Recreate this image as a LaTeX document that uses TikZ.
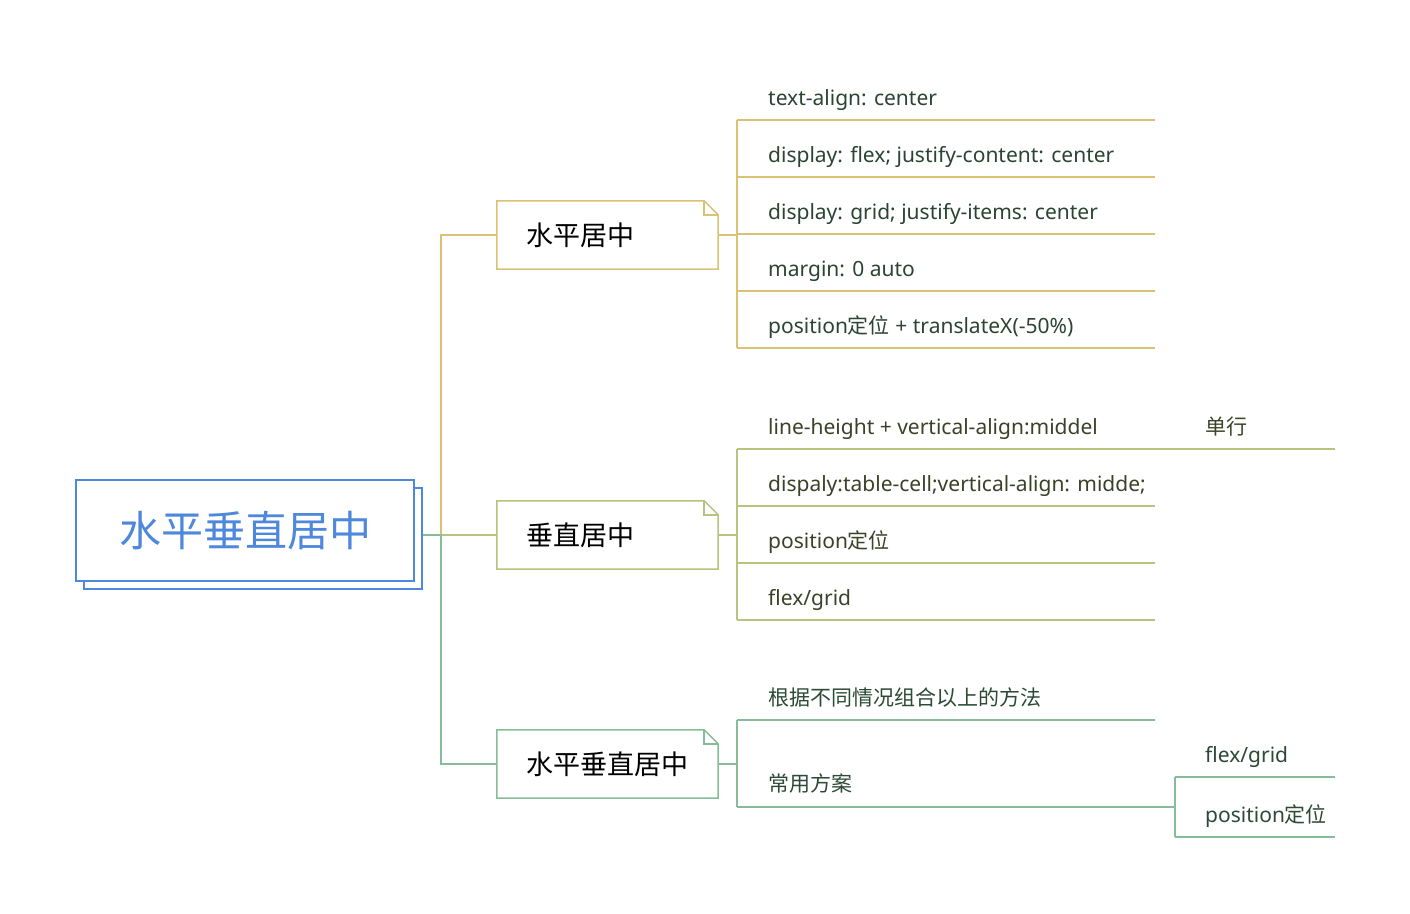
\documentclass[tikz,border=0pt]{standalone}
\usepackage{fontspec}
\usetikzlibrary{calc,shadows}
\setmainfont{Noto Sans}
\newfontfamily\cjk{Noto Sans CJK SC}
\definecolor{yel}{HTML}{D9C273}
\definecolor{oli}{HTML}{B9C27F}
\definecolor{grn}{HTML}{86BC98}
\definecolor{rootblue}{HTML}{4E88DC}
\definecolor{txa}{HTML}{2C4433}
\definecolor{txb}{HTML}{3A4328}
\definecolor{txc}{HTML}{2C4A36}
\tikzset{
  rootbox/.style={draw=rootblue, line width=1.5pt, fill=white,
    minimum width=338pt, minimum height=101pt, inner sep=0pt,
    font=\cjk\fontsize{42}{46}\selectfont, text=rootblue,
    copy shadow={shadow xshift=8pt, shadow yshift=-8pt}},
  topic/.style={minimum width=221pt, minimum height=68pt, inner xsep=29pt,
    inner ysep=0pt, text width=163pt, align=left,
    font=\cjk\fontsize{27}{30}\selectfont, text=black},
  leaf/.style={anchor=base west, inner sep=0pt,
    font=\fontsize{21}{24}\selectfont},
  cjkleaf/.style={leaf, font=\cjk\fontsize{21}{24}\selectfont},
  wire/.style={line width=1.5pt},
  fold/.style={line width=1.5pt, line join=miter},
}
\begin{document}
\begin{tikzpicture}[x=1pt,y=-1pt]
\useasboundingbox[fill=white] (0,0) rectangle (1410,913);

% root and main topics
\node[rootbox] (root) at (245,530.5) {水平垂直居中};
\node[topic] (t1) at (607.5,235) {水平居中};
\node[topic] (t2) at (607.5,535) {垂直居中};
\node[topic] (t3) at (607.5,764) {水平垂直居中};
\coordinate (port) at ($(root.east |- t2.west)+(8,0)$);
\coordinate (trunk) at (441,535);

% note-shaped outlines of the main topics
\foreach \n/\c in {t1/yel,t2/oli,t3/grn}{
  \draw[fold,\c] (\n.south west) -- (\n.north west)
    -- ([xshift=-14pt]\n.north east) -- ([yshift=-14pt]\n.north east)
    -- (\n.south east) -- cycle;
  \draw[fold,\c] ([xshift=-14pt]\n.north east)
    -- ([xshift=-14pt,yshift=-14pt]\n.north east)
    -- ([yshift=-14pt]\n.north east);
}

% root to topics
\draw[wire,yel] (port) -- (trunk) |- (t1.west);
\draw[wire,oli] (port) -- (t2.west);
\draw[wire,grn] (port) -- (trunk) |- (t3.west);

% right rims of the subtopic underlines
\coordinate (rim) at (1155,0);
\coordinate (rim2) at (1335,0);

% branch 1: horizontal centring
\foreach \i/\y in {1/120,2/177,3/234,4/291,5/348}{
  \coordinate (ua\i) at (737,\y);
}
\node[leaf,text=txa] (la1) at (768,105) {text-align: center};
\node[leaf,text=txa] (la2) at (768,162) {display: flex; justify-content: center};
\node[leaf,text=txa] (la3) at (768,219) {display: grid; justify-items: center};
\node[leaf,text=txa] (la4) at (768,276) {margin: 0 auto};
\node[leaf,text=txa] (la5) at (768,333) {position{\cjk 定位} + translateX(-50\%)};
\draw[wire,yel] (t1.east) -- (t1.east -| ua1);
\draw[wire,yel] (ua1) -- (ua5);
\foreach \i in {1,...,5}{ \draw[wire,yel] (ua\i) -- (ua\i -| rim); }

% branch 2: vertical centring
\foreach \i/\y in {1/449,2/506,3/563,4/620}{
  \coordinate (ub\i) at (737,\y);
}
\node[leaf,text=txb] (lb1) at (768,434) {line-height + vertical-align:middel};
\node[leaf,text=txb] (lb2) at (768,491) {dispaly:table-cell;vertical-align: midde;};
\node[leaf,text=txb] (lb3) at (768,548) {position{\cjk 定位}};
\node[leaf,text=txb] (lb4) at (768,605) {flex/grid};
\draw[wire,oli] (t2.east) -- (t2.east -| ub1);
\draw[wire,oli] (ub1) -- (ub4);
\foreach \i in {1,...,4}{ \draw[wire,oli] (ub\i) -- (ub\i -| rim); }
\coordinate (ub1c) at (1175,449);
\node[cjkleaf,text=txb] (lb1c) at (1205,434) {单行};
\draw[wire,oli] (ub1 -| rim) -- (ub1c);
\draw[wire,oli] (ub1c) -- (ub1c -| rim2);

% branch 3: both directions
\coordinate (uc1) at (737,720);
\coordinate (uc2) at (737,807);
\node[cjkleaf,text=txc] (lc1) at (768,705) {根据不同情况组合以上的方法};
\node[cjkleaf,text=txc] (lc2) at (768,791) {常用方案};
\draw[wire,grn] (t3.east) -- (t3.east -| uc1);
\draw[wire,grn] (uc1) -- (uc2);
\foreach \i in {1,2}{ \draw[wire,grn] (uc\i) -- (uc\i -| rim); }
\coordinate (ud1) at (1175,777);
\coordinate (ud2) at (1175,837);
\node[leaf,text=txc] (ld1) at (1205,762) {flex/grid};
\node[leaf,text=txc] (ld2) at (1205,822) {position{\cjk 定位}};
\draw[wire,grn] (uc2 -| rim) -- (uc2 -| ud1);
\draw[wire,grn] (ud1) -- (ud2);
\foreach \i in {1,2}{ \draw[wire,grn] (ud\i) -- (ud\i -| rim2); }
\end{tikzpicture}
\end{document}
